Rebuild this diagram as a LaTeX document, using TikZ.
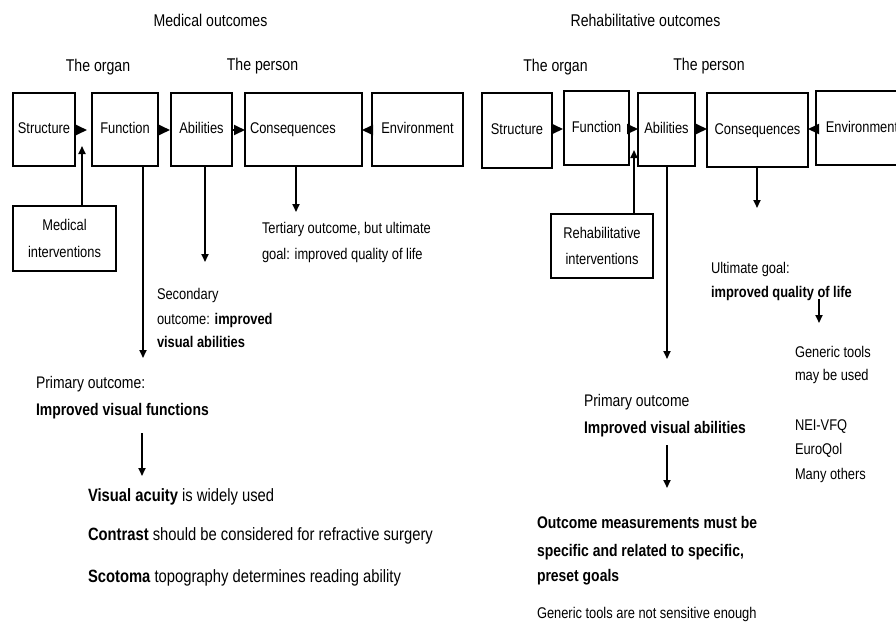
\documentclass[tikz,border=0pt]{standalone}
\usepackage{fontspec}
\setmainfont[FakeStretch=0.83]{Liberation Sans}
\usetikzlibrary{arrows.meta}

\begin{document}
\begin{tikzpicture}[x=1pt,y=-1pt,
  every node/.style={inner sep=0pt, outer sep=0pt},
  box/.style={draw, line width=1.8pt, anchor=north west,
    text height=11.5pt, text depth=3.5pt, font=\fontsize{15.5}{18}\selectfont},
  ibox/.style={draw, line width=1.8pt, anchor=north west, align=center,
    font=\fontsize{15.5}{26.5}\selectfont},
  ttl/.style={anchor=base, font=\fontsize{17}{20}\selectfont},
  txt/.style={anchor=base west, font=\fontsize{15.5}{18}\selectfont},
  big/.style={anchor=base west, font=\fontsize{16.8}{20}\selectfont},
  huge/.style={anchor=base west, font=\fontsize{17.8}{21}\selectfont},
  tri/.style={line width=1.8pt, -{Triangle[length=11pt,width=10pt]}},
  arr/.style={line width=1.8pt, -{Triangle[length=8pt,width=7pt]}}
]
\useasboundingbox (0,0) rectangle (896,622);
\clip (0,0) rectangle (896,622);

% ---------------- medical outcomes ----------------
\node[ttl] (titL) at (210.5,26) {Medical outcomes};
\node[ttl] (orgL) at (98,71) {The organ};
\node[ttl] (perL) at (262.5,70) {The person};

\node[box, minimum width=62pt, minimum height=73pt] (sL) at (13,93) {Structure};
\node[box, minimum width=66pt, minimum height=73pt] (fL) at (92,93) {Function};
\node[box, minimum width=61pt, minimum height=73pt] (aL) at (171,93) {Abilities};
\node[box, minimum width=117pt, minimum height=73pt, inner xsep=5pt,
      text width=107pt, align=left] (cL) at (245,93) {Consequences};
\node[box, minimum width=91pt, minimum height=73pt] (eL) at (372,93) {Environment};

\coordinate (rowL) at (0,130);
\draw[tri, shorten >=5pt] (sL.east |- rowL) -- (fL.west |- rowL);
\draw[tri, shorten >=1pt] (fL.east |- rowL) -- (aL.west |- rowL);
\draw[tri] (aL.east |- rowL) -- (cL.west |- rowL);
\draw[tri] (eL.west |- rowL) -- (cL.east |- rowL);

\node[ibox, minimum width=103pt, minimum height=65pt] (medL) at (13,206)
  {Medical\\interventions};
\coordinate (upL) at (82,146);
\draw[arr] (medL.north -| upL) -- (upL);

\coordinate (dnFL) at (143,358);
\draw[arr] (fL.south -| dnFL) -- (dnFL);
\coordinate (dnAL) at (205,262);
\draw[arr] (aL.south -| dnAL) -- (dnAL);
\coordinate (dnCL) at (296,212);
\draw[arr] (cL.south -| dnCL) -- (dnCL);

\node[txt] (ter1) at (262,233) {Tertiary outcome, but ultimate};
\node[txt] (ter2) at (262,259) {goal: improved quality of life};

\node[txt] (sec1) at (157,299) {Secondary};
\node[txt] (sec2) at (157,324) {outcome: \textbf{improved}};
\node[txt] (sec3) at (157,347) {\textbf{visual abilities}};

\node[big] (pri1) at (36,388) {Primary outcome:};
\node[big] (pri2) at (36,415) {\textbf{Improved visual functions}};

\coordinate (pfA) at (142,433);
\coordinate (pfB) at (142,476);
\draw[arr] (pfA) -- (pfB);

\node[huge] (vis1) at (88,501) {\textbf{Visual acuity} is widely used};
\node[huge] (vis2) at (88,540) {\textbf{Contrast} should be considered for refractive surgery};
\node[huge] (vis3) at (88,582) {\textbf{Scotoma} topography determines reading ability};

% ---------------- rehabilitative outcomes ----------------
\node[ttl] (titR) at (645.5,26) {Rehabilitative outcomes};
\node[ttl] (orgR) at (555.5,71) {The organ};
\node[ttl] (perR) at (709,70) {The person};

\node[box, minimum width=70pt, minimum height=75pt] (sR) at (482,93) {Structure};
\node[box, minimum width=65pt, minimum height=74pt] (fR) at (564,91) {Function};
\node[box, minimum width=57pt, minimum height=73pt] (aR) at (638,93) {Abilities};
\node[box, minimum width=101pt, minimum height=74pt] (cR) at (707,93) {Consequences};
\node[box, minimum width=92pt, minimum height=74pt] (eR) at (816,91) {Environment};

\coordinate (rowR) at (0,129);
\draw[tri, shorten >=1pt] (sR.east |- rowR) -- (fR.west |- rowR);
\draw[tri] (fR.east |- rowR) -- (aR.west |- rowR);
\draw[tri] (aR.east |- rowR) -- (cR.west |- rowR);
\draw[tri] (eR.west |- rowR) -- (cR.east |- rowR);

\node[ibox, minimum width=102pt, minimum height=64pt] (rehR) at (551,214)
  {Rehabilitative\\interventions};
\coordinate (upR) at (634,150);
\draw[arr] (rehR.north -| upR) -- (upR);

\coordinate (dnAR) at (667,359);
\draw[arr] (aR.south -| dnAR) -- (dnAR);
\coordinate (dnCR) at (757,208);
\draw[arr] (cR.south -| dnCR) -- (dnCR);

\node[txt] (ug1) at (711,273) {Ultimate goal:};
\node[txt] (ug2) at (711,297) {\textbf{improved quality of life}};

\coordinate (qgA) at (819,299);
\coordinate (qgB) at (819,323);
\draw[arr] (qgA) -- (qgB);

\node[txt] (gt1) at (795,357) {Generic tools};
\node[txt] (gt2) at (795,380) {may be used};
\node[txt] (nei) at (795,430) {NEI-VFQ};
\node[txt] (euro) at (795,454) {EuroQol};
\node[txt] (many) at (795,479) {Many others};

\node[big] (rp1) at (584,406) {Primary outcome};
\node[big] (rp2) at (584,433) {\textbf{Improved visual abilities}};

\coordinate (poA) at (667,445);
\coordinate (poB) at (667,488);
\draw[arr] (poA) -- (poB);

\node[big] (om1) at (537,528) {\textbf{Outcome measurements must be}};
\node[big] (om2) at (537,556) {\textbf{specific and related to specific,}};
\node[big] (om3) at (537,581) {\textbf{preset goals}};
\node[txt] (gen) at (537,618) {Generic tools are not sensitive enough};
\end{tikzpicture}
\end{document}
